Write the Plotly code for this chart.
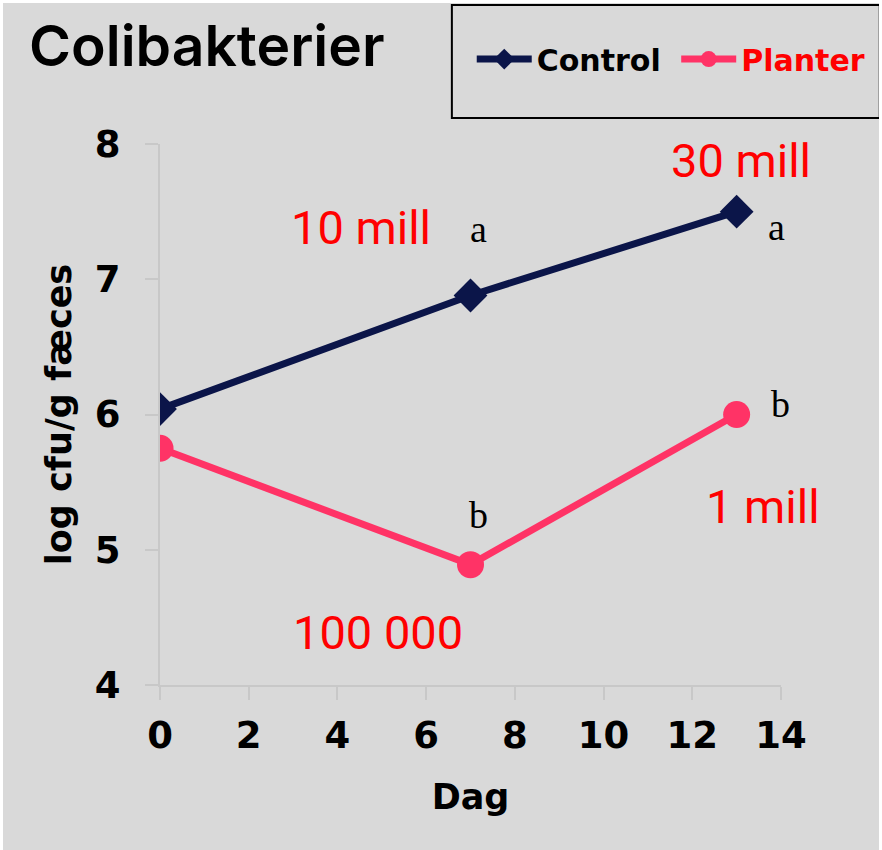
import plotly.graph_objects as go

days = [0, 7, 13]
control = [6.04, 6.88, 7.5]
planter = [5.75, 4.89, 6.0]

x_ticks = [0, 2, 4, 6, 8, 10, 12, 14]
y_ticks = [4, 5, 6, 7, 8]

# red count annotations
count_text = ["10 mill", "30 mill", "1 mill", "100 000"]
count_x = [4.53, 13.1, 13.6, 4.91]
count_y = [7.38, 7.88, 5.32, 4.39]

# significance letters
sig_text = ["a", "a", "b", "b"]
sig_x = [7.17, 13.9, 7.17, 13.98]
sig_y = [7.37, 7.39, 5.26, 6.08]

NAVY = "#0b1549"
PINK = "#ff3366"
AXC = "#c8c8c8"
BG = "#d9d9d9"
SANS = "DejaVu Sans"

fig = go.Figure()
fig.add_trace(go.Scatter(
    x=days, y=control, mode="lines+markers", name="Control&nbsp;",
    line=dict(color=NAVY, width=7),
    marker=dict(symbol="diamond", size=26, color=NAVY),
))
fig.add_trace(go.Scatter(
    x=days, y=planter, mode="lines+markers",
    name="<span style='color:#ff0000'>Planter</span>",
    line=dict(color=PINK, width=7),
    marker=dict(symbol="circle", size=27, color=PINK),
))

for t, x, y in zip(count_text, count_x, count_y):
    fig.add_annotation(x=x, y=y, text=t, showarrow=False,
                       font=dict(family="Roboto", size=47, color="#ff0000"))
for t, x, y in zip(sig_text, sig_x, sig_y):
    fig.add_annotation(x=x, y=y, text=t, showarrow=False,
                       font=dict(family="Liberation Serif", size=38, color="#000000"))

tickfont = dict(family=SANS, size=37, color="#000000", weight="bold")

fig.update_layout(
    width=882, height=850,
    paper_bgcolor=BG, plot_bgcolor=BG,
    margin=dict(l=157, r=104, t=141, b=168),
    title=dict(text="Colibakterier", xref="container", yref="container",
               x=0.0295, xanchor="left", y=0.949, yanchor="middle",
               font=dict(family="Inter", size=57, color="#000000", weight=600)),
    showlegend=True,
    legend=dict(orientation="h", xref="paper", yref="paper",
                x=0.502, xanchor="left", y=1.157, yanchor="middle",
                font=dict(family=SANS, size=30, color="#000000", weight="bold"),
                bgcolor="rgba(0,0,0,0)", itemwidth=55, tracegroupgap=0),
    xaxis=dict(range=[0, 14], tickvals=x_ticks, showgrid=False, zeroline=False,
               showline=True, linecolor=AXC, linewidth=2,
               ticks="outside", ticklen=13, tickwidth=2, tickcolor=AXC,
               tickfont=tickfont, ticklabelstandoff=4,
               title=dict(text="Dag", standoff=28,
                          font=dict(family=SANS, size=35, color="#000000", weight="bold")),
               anchor="y"),
    yaxis=dict(range=[4, 8], tickvals=y_ticks, showgrid=False, zeroline=False,
               showline=True, linecolor=AXC, linewidth=2,
               ticks="outside", ticklen=13, tickwidth=2, tickcolor=AXC,
               tickfont=tickfont, ticklabelstandoff=17,
               title=dict(text="log cfu/g fæces", standoff=13,
                          font=dict(family=SANS, size=35, color="#000000", weight="bold")),
               anchor="x"),
    xaxis2=dict(range=[0, 14], tickvals=x_ticks, overlaying="x", anchor="y",
                side="bottom", showgrid=False, zeroline=False, showline=False,
                ticks="inside", ticklen=13, tickwidth=2, tickcolor=AXC,
                showticklabels=False),
    yaxis2=dict(range=[4, 8], tickvals=y_ticks, overlaying="y", anchor="x",
                side="left", showgrid=False, zeroline=False, showline=False,
                ticks="inside", ticklen=13, tickwidth=2, tickcolor=AXC,
                showticklabels=False),
)

# legend box
fig.add_shape(type="rect", xref="paper", yref="paper",
              x0=0.470, x1=1.159, y0=1.048, y1=1.257,
              line=dict(color="#000000", width=2), fillcolor="rgba(0,0,0,0)",
              layer="above")

fig.write_html("out.html",
               post_script="document.body.style.margin='3px';document.body.style.overflow='hidden';")
